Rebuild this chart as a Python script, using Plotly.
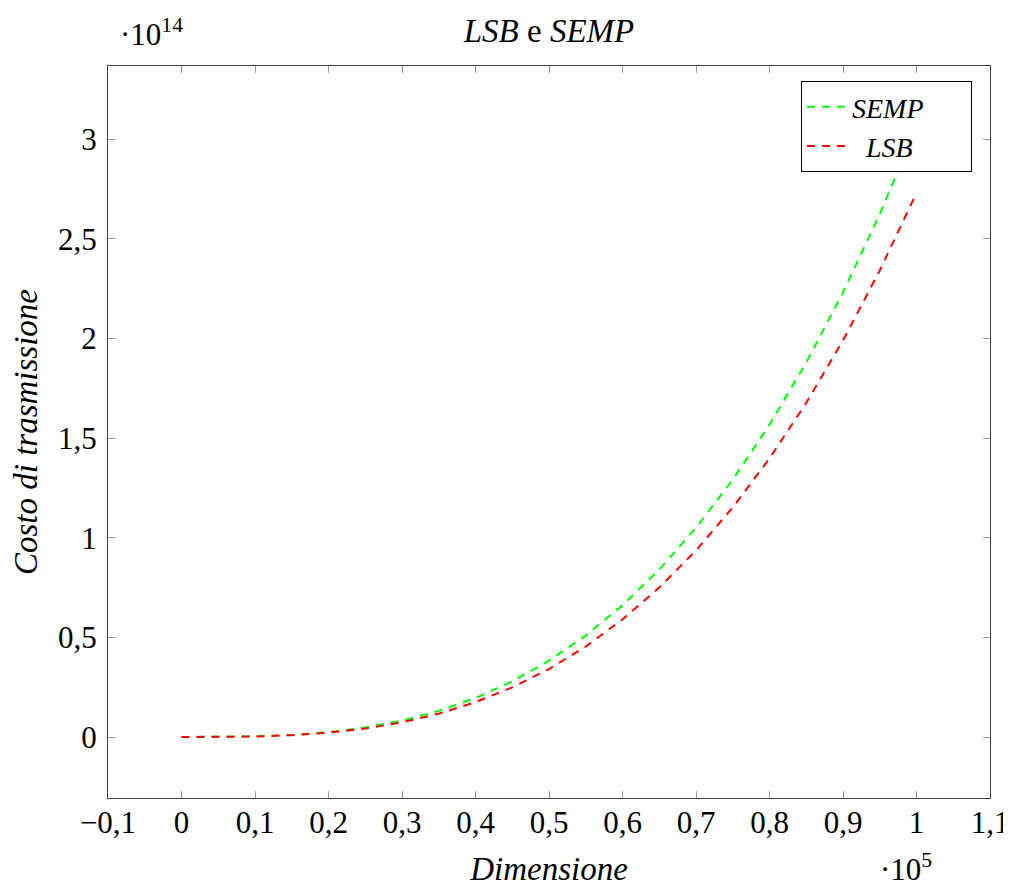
import plotly.graph_objects as go

# Dimensione (in units of 1e5)
x_vals = [0, 0.05, 0.1, 0.15, 0.2, 0.25, 0.3, 0.35, 0.4, 0.45, 0.5,
          0.55, 0.6, 0.65, 0.7, 0.75, 0.8, 0.85, 0.9, 0.95, 1.0]
# Costo di trasmissione (in units of 1e14)
semp = [0, 0.0004, 0.0031, 0.0103, 0.0245, 0.0478, 0.0826, 0.131, 0.196, 0.279, 0.383,
        0.509, 0.661, 0.840, 1.050, 1.291, 1.567, 1.879, 2.231, 2.624, 3.06]
lsb = [0, 0.0003, 0.0027, 0.0092, 0.0218, 0.0427, 0.0737, 0.117, 0.175, 0.249, 0.341,
       0.454, 0.590, 0.750, 0.936, 1.152, 1.398, 1.677, 1.990, 2.341, 2.73]

x_ticks = [-0.1, 0, 0.1, 0.2, 0.3, 0.4, 0.5, 0.6, 0.7, 0.8, 0.9, 1.0, 1.1]
x_ticktext = ["\u22120,1", "0", "0,1", "0,2", "0,3", "0,4", "0,5", "0,6", "0,7", "0,8", "0,9", "1", "1,1"]
y_ticks = [0, 0.5, 1, 1.5, 2, 2.5, 3]
y_ticktext = ["0", "0,5", "1", "1,5", "2", "2,5", "3"]

FONT = "Liberation Serif"
OFF = 8  # page body margin
W, H = 1011 - OFF, 887 - OFF
L, R, T, B = 108 - OFF, 990 - OFF, 66 - OFF, 798 - OFF
PW, PH = R - L, B - T
NB = "\u00a0"

fig = go.Figure()
fig.add_trace(go.Scatter(x=x_vals, y=semp, mode="lines", name="<i>SEMP</i>" + NB * 6,
                         line=dict(color="#00ff00", width=2, dash="8px,7px")))
fig.add_trace(go.Scatter(x=x_vals, y=lsb, mode="lines", name=NB * 2 + "<i>LSB</i>",
                         line=dict(color="#ff0000", width=2, dash="8px,7px")))

axis_common = dict(showline=True, linecolor="#404040", linewidth=1.3, mirror="allticks",
                   ticks="inside", ticklen=7, tickcolor="#999999", tickwidth=1,
                   showgrid=False, zeroline=False, automargin=False,
                   tickfont=dict(family=FONT, size=31, color="black"))

fig.update_layout(
    width=W, height=H,
    margin=dict(l=L, r=W - R, t=T, b=H - B, autoexpand=False),
    paper_bgcolor="white", plot_bgcolor="white",
    title=dict(text="<i>LSB</i> e <i>SEMP</i>", x=(L + R) / 2 / W, xanchor="center",
               y=1 - (30 - OFF) / H, yanchor="middle", font=dict(family=FONT, size=33, color="black")),
    xaxis=dict(range=[-0.1, 1.1], tickvals=x_ticks, ticktext=x_ticktext, ticklabelstandoff=-3,
               title=dict(text="<i>Dimensione</i>", font=dict(family=FONT, size=33, color="black"), standoff=25),
               **axis_common),
    yaxis=dict(range=[-0.306, 3.367], tickvals=y_ticks, ticktext=y_ticktext, ticklabelstandoff=4,
               title=dict(text="<i>Costo di trasmissione</i>", font=dict(family=FONT, size=33, color="black"), standoff=10),
               **axis_common),
    legend=dict(x=(972 - OFF - L) / PW, xref="paper", xanchor="right",
                y=(B - (81 - OFF)) / PH, yref="paper", yanchor="top",
                bgcolor="white", bordercolor="black", borderwidth=1, itemwidth=40,
                font=dict(family=FONT, size=28, color="black"), tracegroupgap=0),
    showlegend=True,
)

fig.add_annotation(text="\u00b710<sup>14</sup>", xref="paper", yref="paper",
                   x=(118 - OFF - L) / PW, y=(B - (33 - OFF)) / PH,
                   xanchor="left", yanchor="middle", showarrow=False,
                   font=dict(family=FONT, size=31, color="black"))
fig.add_annotation(text="\u00b710<sup>5</sup>", xref="paper", yref="paper",
                   x=(906 - OFF - L) / PW, y=(B - (867 - OFF)) / PH,
                   xanchor="center", yanchor="middle", showarrow=False,
                   font=dict(family=FONT, size=31, color="black"))

fig.write_html("out.html")
